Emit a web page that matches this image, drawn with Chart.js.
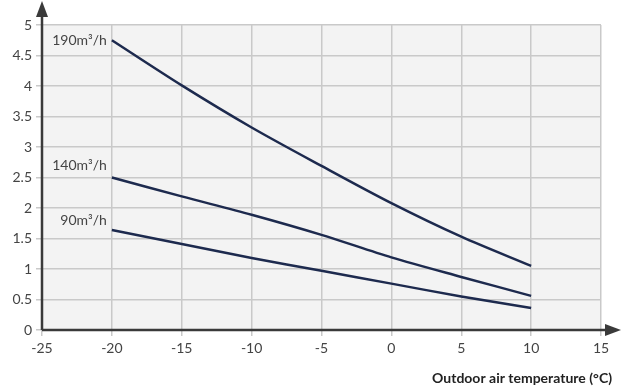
<!DOCTYPE html>
<html>
<head>
<meta charset="utf-8">
<script src="https://cdn.jsdelivr.net/npm/chart.js"></script>
<style>
  html, body { margin: 0; padding: 0; background: #fff; }
  #wrap { position: relative; width: 622px; height: 389px; }
</style>
</head>
<body>
<div id="wrap"><canvas id="chart"></canvas></div>
<script>
// outdoor temperature (°C)
const temps = [-20, -15, -10, -5, 0, 5, 10];
// series values
const flow190 = [4.75, 4.01, 3.32, 2.69, 2.08, 1.53, 1.05];
const flow140 = [2.50, 2.19, 1.89, 1.56, 1.19, 0.87, 0.56];
const flow90  = [1.64, 1.41, 1.18, 0.97, 0.76, 0.55, 0.36];
const seriesLabels = ["190m³/h", "140m³/h", "90m³/h"];
const xTitle = "Outdoor air temperature (°C)";

const navy = "#1d2a4e";
const axisDark = "#3a3a3a";
const fontFam = "Lato, 'Open Sans', sans-serif";

function pts(vals) {
  return temps.map(function (t, i) { return { x: t, y: vals[i] }; });
}

// grey plot background
const bgPlugin = {
  id: "plotBg",
  beforeDraw: function (chart) {
    const a = chart.chartArea, ctx = chart.ctx;
    ctx.save();
    ctx.fillStyle = "#f3f3f3";
    ctx.fillRect(a.left, a.top, a.right - a.left, a.bottom - a.top);
    ctx.restore();
  }
};

// axis arrows, line labels, x title
const decoPlugin = {
  id: "deco",
  afterDraw: function (chart) {
    const a = chart.chartArea, ctx = chart.ctx;
    const xs = chart.scales.x, ys = chart.scales.y;
    ctx.save();
    ctx.strokeStyle = axisDark;
    ctx.fillStyle = axisDark;
    ctx.lineWidth = 2.5;
    // y axis arrow
    ctx.beginPath();
    ctx.moveTo(a.left, a.bottom);
    ctx.lineTo(a.left, 12);
    ctx.stroke();
    ctx.beginPath();
    ctx.moveTo(a.left, 1);
    ctx.lineTo(a.left - 6, 17);
    ctx.lineTo(a.left + 6, 17);
    ctx.closePath();
    ctx.fill();
    // x axis arrow
    ctx.beginPath();
    ctx.moveTo(a.left, a.bottom);
    ctx.lineTo(610, a.bottom);
    ctx.stroke();
    ctx.beginPath();
    ctx.moveTo(621, a.bottom);
    ctx.lineTo(605, a.bottom - 6);
    ctx.lineTo(605, a.bottom + 6);
    ctx.closePath();
    ctx.fill();

    // series labels left of first point
    ctx.font = "14px " + fontFam;
    ctx.fillStyle = "#444";
    ctx.textAlign = "right";
    ctx.textBaseline = "middle";
    const x0 = xs.getPixelForValue(temps[0]) - 5;
    const labelY = [flow190[0], flow140[0] + 0.2, flow90[0] + 0.15];
    seriesLabels.forEach(function (lbl, i) {
      ctx.fillText(lbl, x0, ys.getPixelForValue(labelY[i]));
    });

    // x axis title
    ctx.font = "bold 14px " + fontFam;
    ctx.fillStyle = "#222";
    ctx.textAlign = "right";
    ctx.fillText(xTitle, 612, 378);
    ctx.restore();
  }
};

function lineSet(vals) {
  return {
    data: pts(vals),
    borderColor: navy,
    borderWidth: 2.5,
    pointRadius: 0,
    tension: 0.3,
    fill: false
  };
}

new Chart(document.getElementById("chart"), {
  type: "line",
  data: {
    datasets: [lineSet(flow190), lineSet(flow140), lineSet(flow90)]
  },
  options: {
    responsive: true,
    maintainAspectRatio: false,
    animation: false,
    layout: { padding: { top: 25, right: 21, left: 0, bottom: 0 } },
    plugins: {
      legend: { display: false },
      tooltip: { enabled: false }
    },
    scales: {
      x: {
        type: "linear",
        min: -25,
        max: 15,
        afterFit: function (s) { s.height = 59; },
        ticks: {
          stepSize: 5,
          color: "#444",
          font: { family: fontFam, size: 14 },
          padding: 4
        },
        grid: { color: "#c9c9c9", lineWidth: 1.5, tickLength: 6, tickColor: "#c9c9c9" },
        border: { display: false }
      },
      y: {
        min: 0,
        max: 5,
        afterFit: function (s) { s.width = 42; },
        ticks: {
          stepSize: 0.5,
          color: "#444",
          font: { family: fontFam, size: 14 },
          padding: 4,
          callback: function (v) { return String(Number(v.toFixed(1))); }
        },
        grid: { color: "#c9c9c9", lineWidth: 1.5, tickLength: 6, tickColor: "#c9c9c9" },
        border: { display: false }
      }
    }
  },
  plugins: [bgPlugin, decoPlugin]
});
</script>
</body>
</html>
